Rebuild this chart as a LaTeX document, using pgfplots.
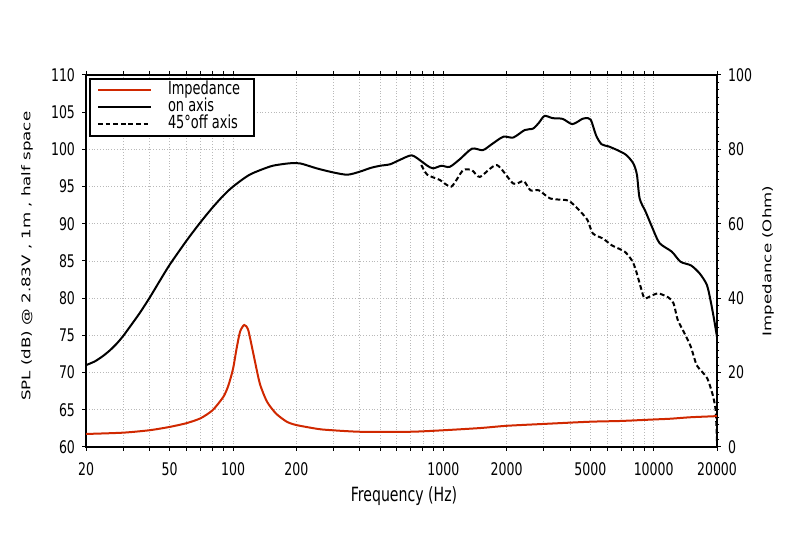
\documentclass[border=0pt]{standalone}
\usepackage{fontspec}
\usepackage{graphicx}
\usepackage{pgfplots}
\pgfplotsset{compat=1.18}
\newfontfamily\lbl[FakeStretch=0.72]{DejaVu Sans}
\newfontfamily\lblv{DejaVu Sans}
\definecolor{impred}{RGB}{208,40,0}
\definecolor{gridgray}{RGB}{185,185,185}

\pgfplotstableread{
f z
20 3.5
30 3.85
40 4.5
50 5.4
60 6.4
70 7.7
80 9.9
90 13.5
95 16.5
100 21.0
104 26.5
108 31.0
113 32.8
118 31.5
125 25.0
134 17.1
145 12.2
160 9.0
180 6.8
200 5.9
250 4.9
280 4.6
400 4.1
700 4.1
1000 4.5
1500 5.1
2000 5.7
3000 6.2
5000 6.8
7000 7.0
10000 7.4
12000 7.6
15000 8.0
20000 8.3
}\impedance

\pgfplotstableread{
f db
20 71.0
22 71.5
24 72.2
26 73.0
28 73.9
30 74.9
33 76.5
36 78.0
40 80.0
45 82.4
50 84.5
60 87.7
70 90.2
80 92.2
90 93.8
100 95.0
120 96.6
150 97.7
170 98.0
190 98.15
210 98.1
250 97.45
300 96.9
350 96.6
400 97.0
450 97.5
500 97.8
558 98.0
622 98.6
707 99.2
786 98.4
840 97.8
893 97.45
980 97.8
1071 97.65
1200 98.7
1368 100.1
1540 99.9
1700 100.7
1928 101.7
2151 101.6
2436 102.6
2670 102.8
2850 103.6
3027 104.5
3310 104.2
3693 104.1
4106 103.4
4573 104.1
4730 104.2
5018 104.0
5318 101.9
5645 100.7
6106 100.4
6718 99.9
7404 99.25
8004 98.1
8322 96.6
8575 93.4
9161 91.6
9877 89.4
10666 87.4
12193 86.25
13417 84.9
15050 84.4
16570 83.3
17890 81.8
18600 79.8
19300 77.4
20000 74.8
}\onaxis

\pgfplotstableread{
f db
786 97.9
838 96.6
961 95.9
1091 95.0
1240 97.2
1368 97.2
1492 96.3
1794 97.9
2151 95.4
2407 95.75
2595 94.5
2845 94.5
3222 93.4
3804 93.2
4000 93.0
4330 92.1
4502 91.6
4845 90.5
5138 88.7
5752 88.0
6330 87.1
7286 86.25
7866 85.1
8180 84.0
8672 81.5
9023 80.0
9546 80.2
10482 80.65
11746 80.1
12434 79.3
13000 77.1
14000 75.3
15000 73.5
16000 71.0
17000 70.1
18000 69.2
19000 67.2
19700 65.0
20000 60.5
}\offaxis

\begin{document}
\begin{tikzpicture}[font=\fontsize{8.7}{10.4}\lbl]
\begin{axis}[
  name=ax,
  scale only axis,
  width=315.5pt, height=186pt,
  xmode=log,
  xmin=20, xmax=20000,
  ymin=60, ymax=110,
  ytick={60,65,...,110},
  xtick={20,30,40,50,60,70,80,90,100,200,300,400,500,600,700,800,900,1000,2000,3000,4000,5000,6000,7000,8000,9000,10000,20000},
  xticklabels={20,,,50,,,,,100,200,,,,,,,,1000,2000,,,5000,,,,,10000,20000},
  minor xtick={},
  xtick pos=both,
  ytick pos=left,
  tick align=outside,
  major tick length=2pt,
  tick style={black, line width=0.5pt},
  axis line style={line width=0.8pt},
  grid=major,
  major grid style={densely dotted, gridgray, line width=0.4pt},
  /pgf/number format/assume math mode=true,
  tick label style={font=\fontsize{8.7}{10.4}\lbl},
  xticklabel style={yshift=-2.5pt},
  ylabel={\scalebox{1}[0.72]{\fontsize{8.3}{10}\lblv SPL (dB) @ 2.83V , 1m , half space}},
  xlabel={Frequency (Hz)},
  ylabel style={at={(axis description cs:-0.0935,0.513)}, anchor=center},
  xlabel style={at={(axis description cs:0.504,-0.132)}, anchor=center, font=\fontsize{9.8}{11}\lbl},
  legend cell align=left,
  legend image code/.code={\draw[#1] (0pt,0pt) -- (26.5pt,0pt);},
  legend style={at={(axis description cs:0,1)}, anchor=north west, xshift=1.5pt, yshift=-1.5pt,
    draw=black, line width=1pt, inner xsep=3.5pt, inner ysep=1.5pt,
    nodes={inner sep=0pt, text height=6.5pt, text depth=2pt}, row sep=0pt, column sep=0pt,
    /tikz/every odd column/.append style={column sep=8pt},
    font=\fontsize{9}{10}\lbl},
]
\addlegendimage{impred, line width=1pt}
\addlegendentry{Impedance\hspace*{3.5pt}}
\addplot[black, line width=1pt, smooth, tension=0.45] table[x=f, y=db] {\onaxis};
\addlegendentry{on axis}
\addplot[black, line width=1pt, dash pattern=on 2.4pt off 1.4pt, smooth, tension=0.4] table[x=f, y=db] {\offaxis};
\addlegendentry{45°off axis}
\end{axis}
\begin{axis}[
  scale only axis,
  width=315.5pt, height=186pt,
  xmode=log,
  xmin=20, xmax=20000,
  ymin=0, ymax=100,
  hide x axis,
  axis y line*=right,
  ytick={0,20,...,100},
  minor y tick num=9,
  tick align=outside,
  major tick length=2pt,
  minor tick length=1.2pt,
  tick style={black, line width=0.5pt},
  axis line style={line width=0.8pt},
  /pgf/number format/assume math mode=true,
  tick label style={font=\fontsize{8.7}{10.4}\lbl},
  ylabel={\scalebox{1}[0.72]{\fontsize{8.3}{10}\lblv Impedance (Ohm)}},
  ylabel style={at={(axis description cs:1.081,0.5)}, anchor=center},
]
\addplot[impred, line width=1pt, smooth, tension=0.4] table[x=f, y=z] {\impedance};
\end{axis}
\path (ax.south west) ++(-43pt,-43pt) rectangle ([xshift=41.5pt,yshift=37.5pt]ax.north east);
\end{tikzpicture}
\end{document}
